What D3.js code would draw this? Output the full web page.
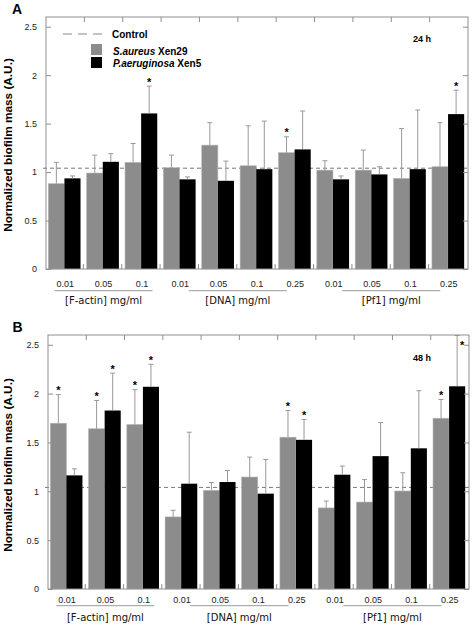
<!DOCTYPE html>
<html><head><meta charset="utf-8">
<script src="https://cdn.jsdelivr.net/npm/d3@7"></script>
<style>body{margin:0;background:#fff}</style>
</head><body>
<svg id="c" width="472" height="625"></svg>
<script>
// ---- data ----
const categories = ["0.01","0.05","0.1","0.01","0.05","0.1","0.25","0.01","0.05","0.1","0.25"];
const groupLabels = ["[F-actin] mg/ml","[DNA] mg/ml","[Pf1] mg/ml"];
const groupSizes = [3,4,4];
const yTicks = [0,0.5,1,1.5,2,2.5];
const yTickLabels = ["0","0.5","1","1.5","2","2.5"];
const controlLevel = 1.04;
const seriesNames = ["Control","S.aureus","Xen29","P.aeruginosa","Xen5"];

// Panel A (24 h)
const a24Gray     = [0.88,0.99,1.10,1.045,1.278,1.065,1.20,1.02,1.02,0.935,1.055];
const a24GrayErr  = [0.22,0.185,0.195,0.13,0.232,0.412,0.164,0.097,0.207,0.515,0.455];
const a24Black    = [0.935,1.106,1.605,0.925,0.91,1.03,1.234,0.925,0.976,1.03,1.598];
const a24BlackErr = [0.025,0.084,0.282,0.025,0.203,0.496,0.396,0.035,0.079,0.61,0.247];
const a24GraySig  = [0,0,0,0,0,0,1,0,0,0,0];
const a24BlackSig = [0,0,1,0,0,0,0,0,0,0,1];

// Panel B (48 h)
const b48Gray     = [1.697,1.64,1.684,0.738,1.01,1.146,1.554,0.83,0.89,1.003,1.748];
const b48GrayErr  = [0.293,0.29,0.356,0.068,0.08,0.204,0.273,0.07,0.23,0.187,0.192];
const b48Black    = [1.163,1.827,2.07,1.078,1.095,0.976,1.527,1.17,1.36,1.44,2.075];
const b48BlackErr = [0.067,0.383,0.23,0.527,0.119,0.35,0.208,0.088,0.344,0.59,0.52];
const b48GraySig  = [1,1,1,0,0,0,1,0,0,0,1];
const b48BlackSig = [0,1,1,0,0,0,1,0,0,0,1];

// ---- drawing ----
const svg = d3.select("#c");
const FRAME = "#8f8f8f";
const GRAY = "#8c8c8c";
const SANS = "'Liberation Sans', Arial, sans-serif";

const panels = [
  {letter:"A", lx:12, ly:13.5, time:"24 h", x0:46, x1:468, top:17, bottom:269,
   gray:a24Gray, grayErr:a24GrayErr, black:a24Black, blackErr:a24BlackErr,
   graySig:a24GraySig, blackSig:a24BlackSig, tickY:286.5, lineY:290.7, groupY:303.5,
   titleY:145, legend:true},
  {letter:"B", lx:12.5, ly:332, time:"48 h", x0:48, x1:469, top:335, bottom:589,
   gray:b48Gray, grayErr:b48GrayErr, black:b48Black, blackErr:b48BlackErr,
   graySig:b48GraySig, blackSig:b48BlackSig, tickY:602.5, lineY:605.7, groupY:620.5,
   titleY:465, legend:false}
];

panels.forEach(p => {
  const g = svg.append("g");
  const x = d3.scaleBand().domain(d3.range(categories.length)).range([p.x0, p.x1]);
  const y = d3.scaleLinear().domain([0, 2.6]).range([p.bottom, p.top]);
  const bw = x.bandwidth();
  const barW = bw * 0.42;
  const gx = i => x(i) + bw * 0.06;
  const bx = i => gx(i) + barW;

  // control dashed line
  g.append("line").attr("x1", p.x0 - 3).attr("x2", p.x1).attr("y1", y(controlLevel)).attr("y2", y(controlLevel))
    .attr("stroke", "#777").attr("stroke-width", 1).attr("stroke-dasharray", "4,3");

  // bars
  const idx = d3.range(categories.length);
  g.selectAll(".gb").data(idx).join("rect")
    .attr("x", gx).attr("width", barW)
    .attr("y", i => y(p.gray[i])).attr("height", i => y(0) - y(p.gray[i]))
    .attr("fill", GRAY).attr("stroke", "#b5b5b5").attr("stroke-width", 0.6);
  g.selectAll(".bb").data(idx).join("rect")
    .attr("x", bx).attr("width", barW)
    .attr("y", i => y(p.black[i])).attr("height", i => y(0) - y(p.black[i]))
    .attr("fill", "#000");

  // error bars + asterisks
  const drawErr = (xf, vals, errs, sigs) => {
    idx.forEach(i => {
      const cx = xf(i) + barW / 2;
      const top = Math.max(y(vals[i] + errs[i]), p.top);
      g.append("line").attr("x1", cx).attr("x2", cx).attr("y1", y(vals[i])).attr("y2", top)
        .attr("stroke", "#999").attr("stroke-width", 1);
      g.append("line").attr("x1", cx - 2.5).attr("x2", cx + 2.5).attr("y1", top).attr("y2", top)
        .attr("stroke", "#999").attr("stroke-width", 1);
      if (sigs[i]) {
        let sx = cx, sy = top - 0.5;
        if (sy - 8 < p.top) { sx = cx + 5; sy = p.top + 14; }
        g.append("text").attr("x", sx).attr("y", sy).attr("text-anchor", "middle")
          .attr("font-family", SANS).attr("font-weight", "bold").attr("font-size", 11).text("*");
      }
    });
  };
  drawErr(gx, p.gray, p.grayErr, p.graySig);
  drawErr(bx, p.black, p.blackErr, p.blackSig);

  // frame
  g.append("rect").attr("x", p.x0).attr("y", p.top).attr("width", p.x1 - p.x0).attr("height", p.bottom - p.top)
    .attr("fill", "none").attr("stroke", FRAME).attr("stroke-width", 1);

  // band boundary ticks (top and bottom)
  d3.range(1, categories.length).forEach(i => {
    const tx = x(i);
    g.append("line").attr("x1", tx).attr("x2", tx).attr("y1", p.top).attr("y2", p.top + 5).attr("stroke", FRAME);
    g.append("line").attr("x1", tx - 1).attr("x2", tx - 1).attr("y1", p.bottom).attr("y2", p.bottom - 5).attr("stroke", FRAME);
  });

  // y axis left (inward ticks) & right
  const yl = d3.axisLeft(y).tickValues(yTicks).tickSize(-5).tickPadding(9)
    .tickFormat((d, i) => yTickLabels[i]);
  const ya = g.append("g").attr("transform", `translate(${p.x0},0)`).call(yl);
  ya.select(".domain").remove();
  ya.selectAll("line").attr("stroke", FRAME);
  ya.selectAll("text").attr("font-family", SANS).attr("font-size", 9).attr("fill", "#222");
  const yr = d3.axisRight(y).tickValues(yTicks).tickSize(-5).tickFormat("");
  const yra = g.append("g").attr("transform", `translate(${p.x1},0)`).call(yr);
  yra.select(".domain").remove();
  yra.selectAll("line").attr("stroke", FRAME);

  // x category labels
  g.selectAll(".xl").data(idx).join("text")
    .attr("x", i => x(i) + bw / 2).attr("y", p.tickY).attr("text-anchor", "middle")
    .attr("font-family", SANS).attr("font-size", 9).attr("fill", "#222")
    .text(i => categories[i]);

  // group labels + underline
  let start = 0;
  groupSizes.forEach((n, gi) => {
    const cx = (x(start) + x(start + n - 1) + bw) / 2;
    g.append("line").attr("x1", cx - 49).attr("x2", cx + 49).attr("y1", p.lineY).attr("y2", p.lineY)
      .attr("stroke", "#999").attr("stroke-width", 1);
    g.append("text").attr("x", cx).attr("y", p.groupY).attr("text-anchor", "middle")
      .attr("font-family", "'DejaVu Sans', Verdana, sans-serif").attr("font-size", 10).attr("fill", "#111")
      .text(groupLabels[gi]);
    start += n;
  });

  // y title
  g.append("text").attr("transform", `translate(12,${p.titleY}) rotate(-90)`).attr("text-anchor", "middle")
    .attr("font-family", SANS).attr("font-weight", "bold").attr("font-size", 11.8)
    .text("Normalized biofilm mass (A.U.)");

  // panel letter
  g.append("text").attr("x", p.lx).attr("y", p.ly).attr("font-family", SANS).attr("font-weight", "bold")
    .attr("font-size", 14).text(p.letter);

  // time label
  g.append("text").attr("x", 413).attr("y", y(2.37) + 3.2).attr("font-family", SANS).attr("font-weight", "bold")
    .attr("font-size", 9).text(p.time);

  if (p.legend) {
    const L = g.append("g").attr("font-family", SANS).attr("font-weight", "bold").attr("font-size", 10);
    L.append("line").attr("x1", 63).attr("x2", 103).attr("y1", 34).attr("y2", 34)
      .attr("stroke", "#888").attr("stroke-width", 1.2).attr("stroke-dasharray", "9,6");
    L.append("text").attr("x", 112).attr("y", 37.5).text(seriesNames[0]);
    L.append("rect").attr("x", 91).attr("y", 44).attr("width", 11).attr("height", 11).attr("fill", GRAY);
    const t1 = L.append("text").attr("x", 113).attr("y", 54.5);
    t1.append("tspan").attr("font-style", "italic").text(seriesNames[1]);
    t1.append("tspan").text(" " + seriesNames[2]);
    L.append("rect").attr("x", 91).attr("y", 57).attr("width", 11).attr("height", 11).attr("fill", "#000");
    const t2 = L.append("text").attr("x", 113).attr("y", 67);
    t2.append("tspan").attr("font-style", "italic").text(seriesNames[3]);
    t2.append("tspan").text(" " + seriesNames[4]);
  }
});
</script>
</body></html>
